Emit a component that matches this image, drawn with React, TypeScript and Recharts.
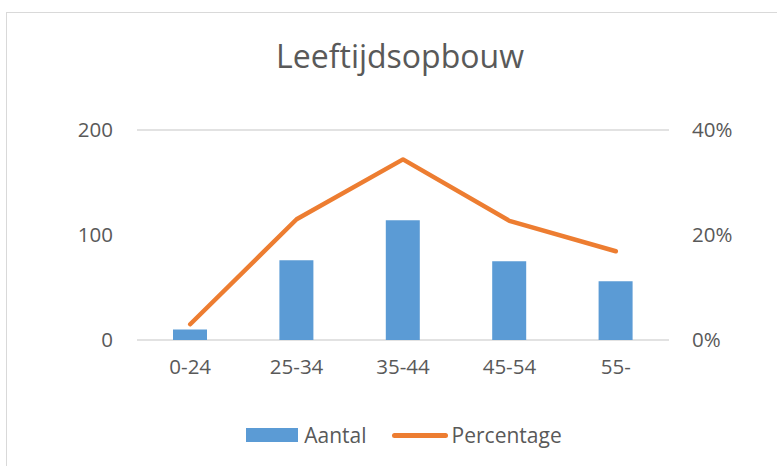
import {
  ComposedChart,
  Bar,
  Line,
  XAxis,
  YAxis,
  CartesianGrid,
  Legend
} from 'recharts'

const categories = ['0-24', '25-34', '35-44', '45-54', '55-']
const aantal = [10, 76, 114, 75, 56]
const percentage = [0.03, 0.23, 0.344, 0.227, 0.169]
const leftTicks = [0, 100, 200]
const rightTicks = [0, 0.2, 0.4]

const data = categories.map((c, i) => ({
  leeftijd: c,
  Aantal: aantal[i],
  Percentage: percentage[i]
}))

const font = '"Open Sans", sans-serif'
const textColor = '#595959'

function LegendContent() {
  return (
    <div
      style={{
        display: 'flex',
        justifyContent: 'center',
        alignItems: 'center',
        paddingLeft: 8,
        fontFamily: font,
        fontSize: 21,
        color: textColor
      }}
    >
      <span style={{ width: 52, height: 14, background: '#5B9BD5', marginRight: 6 }} />
      <span style={{ marginRight: 25 }}>Aantal</span>
      <span
        style={{ width: 56, height: 5, background: '#ED7D31', borderRadius: 3, marginRight: 4 }}
      />
      <span>Percentage</span>
    </div>
  )
}

export default function App() {
  return (
    <div
      style={{
        position: 'absolute',
        left: 0,
        top: 0,
        width: 777,
        height: 466,
        overflow: 'hidden',
        background: '#fff'
      }}
    >
      <div
        style={{
          position: 'absolute',
          left: 6,
          top: 12,
          width: 820,
          height: 520,
          border: '1.5px solid #d9d9d9'
        }}
      />
      <div
        style={{
          position: 'absolute',
          left: 0,
          width: 800,
          top: 34,
          textAlign: 'center',
          fontFamily: font,
          fontSize: 32,
          color: textColor
        }}
      >
        Leeftijdsopbouw
      </div>
      <div style={{ position: 'absolute', left: 0, top: 0 }}>
        <ComposedChart
          width={777}
          height={466}
          data={data}
          margin={{ top: 130, right: 8, left: 0, bottom: 96 }}
        >
          <CartesianGrid vertical={false} stroke="#d9d9d9" strokeWidth={1.3} />
          <XAxis
            dataKey="leeftijd"
            axisLine={false}
            tickLine={false}
            height={30}
            tickMargin={13}
            tick={{ fill: textColor, fontSize: 20.5, fontFamily: font }}
          />
          <YAxis
            yAxisId="left"
            width={137}
            domain={[0, 200]}
            ticks={leftTicks}
            axisLine={false}
            tickLine={false}
            tickMargin={18}
            tick={{ fill: textColor, fontSize: 20.5, fontFamily: font }}
          />
          <YAxis
            yAxisId="right"
            orientation="right"
            width={100}
            domain={[0, 0.4]}
            ticks={rightTicks}
            axisLine={false}
            tickLine={false}
            tickMargin={17}
            tickFormatter={(v: number) => `${Math.round(v * 100)}%`}
            tick={{ fill: textColor, fontSize: 20.5, fontFamily: font }}
          />
          <Bar
            yAxisId="left"
            dataKey="Aantal"
            fill="#5B9BD5"
            barSize={34}
            isAnimationActive={false}
          />
          <Line
            yAxisId="right"
            dataKey="Percentage"
            stroke="#ED7D31"
            strokeWidth={4.5}
            strokeLinecap="round"
            strokeLinejoin="round"
            dot={false}
            type="linear"
            isAnimationActive={false}
          />
          <Legend
            layout="horizontal"
            verticalAlign="middle"
            align="center"
            content={<LegendContent />}
            wrapperStyle={{ top: 421, left: 0, width: 800 }}
          />
        </ComposedChart>
      </div>
    </div>
  )
}
